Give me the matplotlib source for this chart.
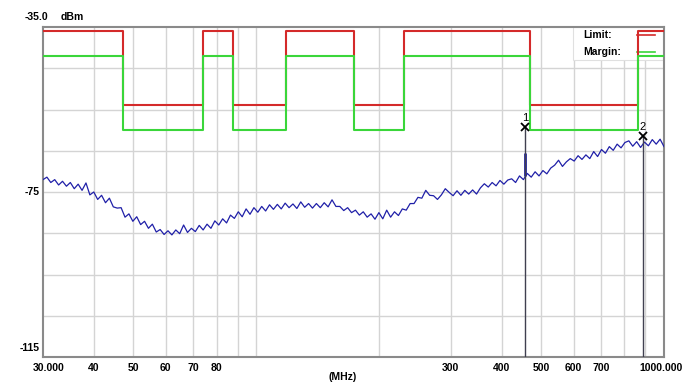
import numpy as np
import matplotlib
matplotlib.use("Agg")
import matplotlib.pyplot as plt
from matplotlib.patches import Rectangle
from matplotlib.transforms import ScaledTranslation

plt.rcParams['font.family'] = ['Liberation Sans', 'DejaVu Sans']

# Limit / margin bands (MHz edges, dBm)
band_edges = [30, 47, 74, 87.5, 118, 174, 230, 470, 862, 1000]
limit_dbm = [-36, -54, -36, -54, -36, -54, -36, -54, -36]
margin_dbm = [-42, -60, -42, -60, -42, -60, -42, -60, -42]

# Measured trace, 160 sweep points from 30 to 1000 MHz (log sweep)
trace_dbm = [
    -72.0, -71.4, -72.7, -72.0, -73.3, -72.4, -73.6, -72.7, -74.2, -73.1,
    -74.6, -72.8, -75.7, -75.0, -76.8, -75.8, -77.6, -76.5, -78.6, -78.9,
    -78.8, -81.1, -80.3, -82.1, -81.0, -82.9, -82.1, -83.8, -82.8, -84.7,
    -84.1, -85.3, -84.4, -85.4, -84.2, -85.1, -83.0, -84.8, -83.8, -84.6,
    -83.1, -84.2, -82.8, -83.8, -82.0, -83.0, -81.5, -82.5, -80.6, -81.4,
    -79.8, -81.0, -79.1, -80.4, -78.8, -79.9, -78.5, -79.6, -78.1, -79.2,
    -78.0, -79.1, -77.7, -78.8, -77.9, -79.0, -77.4, -78.7, -77.8, -78.9,
    -77.8, -78.8, -77.6, -78.6, -76.9, -78.5, -78.5, -79.5, -78.8, -80.0,
    -79.4, -80.6, -79.8, -81.1, -80.3, -81.6, -80.0, -81.5, -79.4, -81.1,
    -79.8, -80.7, -79.1, -79.4, -77.8, -77.8, -76.3, -76.5, -74.6, -75.8,
    -75.9, -76.8, -75.7, -74.2, -75.1, -75.9, -74.7, -75.8, -74.6, -75.5,
    -74.5, -75.5, -74.0, -73.0, -73.8, -72.7, -73.5, -72.2, -73.1, -72.1,
    -71.8, -72.7, -71.1, -72.0, -70.5, -71.4, -70.1, -71.1, -69.8, -70.6,
    -69.2, -68.5, -67.3, -68.8, -67.7, -66.9, -67.5, -66.2, -67.1, -66.0,
    -66.9, -65.2, -66.4, -64.7, -65.6, -64.0, -64.9, -63.4, -64.3, -63.0,
    -62.6, -63.9, -62.8, -64.2, -62.9, -63.8, -62.3, -63.4, -62.2, -64.0,
]

# Markers
marker_freq = [456, 888]
marker_dbm = [-59.2, -61.4]
marker_names = ['1', '2']
spike_freq = 456
spike_base, spike_top = -71.0, -65.5

xtick_vals = [30, 40, 50, 60, 70, 80, 300, 400, 500, 600, 700, 1000]
xtick_text = ['30.000', '40', '50', '60', '70', '80', '300', '400', '500', '600', '700', '1000.000']

fig = plt.figure(figsize=(7, 3.92), dpi=100)
ax = fig.add_axes([43 / 700, 35 / 392, 621 / 700, 330 / 392])
ax.set_xscale('log')
ax.set_xlim(30, 1000)
ax.set_ylim(-115, -35)

# grid
for f in [40, 50, 60, 70, 80, 90, 100, 200, 300, 400, 500, 600, 700, 800, 900]:
    ax.axvline(f, color='#d4d4d4', lw=1, zorder=0)
for lv in range(-105, -35, 10):
    ax.axhline(lv, color='#d4d4d4', lw=1, zorder=0)

for s in ax.spines.values():
    s.set_color('#8a8a8a')
    s.set_linewidth(1.5)

# legend box
ax.add_patch(Rectangle((0.8535, 0.9), 0.1465, 0.1, transform=ax.transAxes,
                       facecolor='white', edgecolor='#e0e0e0', lw=0.8, zorder=1))
ax.text(0.8695, 0.975, 'Limit:', transform=ax.transAxes, fontsize=7.5,
        fontweight='bold', va='center', zorder=2)
ax.text(0.8695, 0.925, 'Margin:', transform=ax.transAxes, fontsize=7.5,
        fontweight='bold', va='center', zorder=2)
ax.plot([0.957, 0.985], [0.975, 0.975], color='#d42a2a', lw=1.2,
        transform=ax.transAxes, zorder=2)
ax.plot([0.957, 0.985], [0.925, 0.925], color='#3ad63a', lw=1.2,
        transform=ax.transAxes, zorder=2)

# limit and margin lines
ax.step(band_edges, limit_dbm + [limit_dbm[-1]], where='post',
        color='#d42a2a', lw=1.5, zorder=3)
ax.step(band_edges, margin_dbm + [margin_dbm[-1]], where='post',
        color='#3ad63a', lw=1.5, zorder=3)

# trace
freqs = np.geomspace(30, 1000, len(trace_dbm))
ax.plot(freqs, trace_dbm, color='#2020a8', lw=0.9, zorder=4)
ax.vlines(spike_freq, spike_base, spike_top, color='#2020a8', lw=2, zorder=4)

# markers
for f, lv, name in zip(marker_freq, marker_dbm, marker_names):
    ax.vlines(f, -115, lv, color='#404050', lw=1, zorder=5)
    ax.plot(f, lv, marker='x', color='black', ms=6, mew=1.3, zorder=6)
    ax.text(f, lv + 0.9, name, ha='center', va='bottom', fontsize=8, zorder=6)

# ticks
ax.set_xticks(xtick_vals)
ax.set_xticklabels(xtick_text)
ax.xaxis.set_minor_locator(matplotlib.ticker.NullLocator())
ax.tick_params(axis='x', length=0, pad=4, labelsize=7.5)
labels = ax.get_xticklabels()
for lab in labels:
    lab.set_fontweight('bold')
labels[0].set_transform(labels[0].get_transform() + ScaledTranslation(0.06, 0, fig.dpi_scale_trans))
labels[-1].set_transform(labels[-1].get_transform() + ScaledTranslation(-0.03, 0, fig.dpi_scale_trans))
ax.set_yticks([])
ax.text(0.483, -0.045, '(MHz)', transform=ax.transAxes, ha='center', va='top',
        fontsize=7.5, fontweight='bold')

ax.text(-0.005, -75, '-75', transform=ax.get_yaxis_transform(), ha='right',
        va='center', fontsize=7.5, fontweight='bold')
ax.text(-0.005, -112.7, '-115', transform=ax.get_yaxis_transform(), ha='right',
        va='center', fontsize=7.5, fontweight='bold')
ax.text(-0.03, 1.03, '-35.0', transform=ax.transAxes, ha='left',
        va='center', fontsize=7.5, fontweight='bold')
ax.text(0.028, 1.03, 'dBm', transform=ax.transAxes, ha='left',
        va='center', fontsize=7.5, fontweight='bold')

fig.savefig('out.png', dpi=100, facecolor='white')
